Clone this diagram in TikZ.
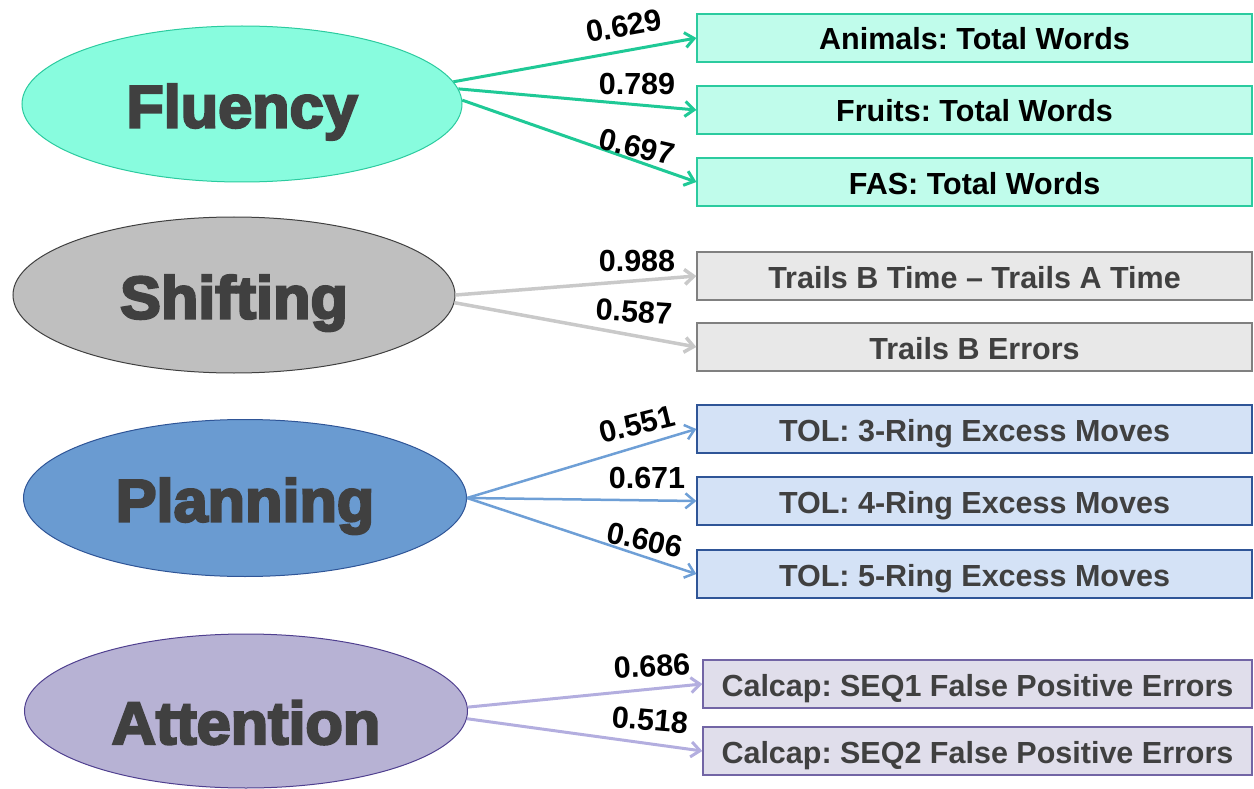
\documentclass[tikz,border=0pt]{standalone}
\usepackage{fontspec}
\setmainfont{Liberation Sans}
\newfontfamily\gruesa[FakeBold=4,FakeStretch=1.02]{Liberation Sans Bold}
\usepackage{tikz}
\usetikzlibrary{shapes.geometric,arrows.meta,positioning}
\frenchspacing
\definecolor{oscuro}{HTML}{404040}
\definecolor{fluF}{HTML}{88FCDE}\definecolor{fluB}{HTML}{2BCB9F}
\definecolor{fluC}{HTML}{C0FCEB}\definecolor{fluL}{HTML}{1FC996}
\definecolor{shiF}{HTML}{BFBFBF}\definecolor{shiB}{HTML}{404040}
\definecolor{shiC}{HTML}{E8E8E8}\definecolor{shiL}{HTML}{C9C9C9}
\definecolor{plaF}{HTML}{6A9BD1}\definecolor{plaB}{HTML}{2F5597}
\definecolor{plaC}{HTML}{D4E2F6}\definecolor{plaL}{HTML}{6E9FD6}
\definecolor{atnF}{HTML}{B7B2D4}\definecolor{atnB}{HTML}{4F3F8F}
\definecolor{atnC}{HTML}{E0DEEB}\definecolor{atnL}{HTML}{B3AEDF}
\tikzset{
  factor/.style={ellipse,inner sep=0pt,minimum width=442pt,minimum height=156pt,line width=1pt,
    text height=47pt,text depth=0pt,text=oscuro,font=\gruesa\fontsize{60}{60}\selectfont},
  medida/.style={rectangle,inner sep=0pt,minimum width=555pt,minimum height=48pt,line width=1.3pt,
    text height=24pt,text depth=0pt,text=oscuro,font=\bfseries\fontsize{30.5}{30.5}\selectfont},
  carga/.style={font=\bfseries\fontsize{30.5}{30.5}\selectfont},
  flecha/.style={-{Straight Barb[length=9pt,width=15pt]},line width=3pt}
}

\begin{document}
\begin{tikzpicture}[x=1pt,y=-1pt]
\useasboundingbox (0,0) rectangle (1254,789);
% fluency
\node[factor,fill=fluF,draw=fluB,minimum width=440pt] (flu) at (242,104) {Fluency};
\node[medida,fill=fluC,draw=fluB,text=black] (ani) at (974.5,38) {Animals: Total Words};
\node[medida,fill=fluC,draw=fluB,text=black] (fru) at (974.5,110) {Fruits: Total Words};
\node[medida,fill=fluC,draw=fluB,text=black] (fas) at (974.5,182) {FAS: Total Words};
\draw[flecha,fluL] (flu.6)--(ani.west);
\draw[flecha,fluL] (flu.4)--(fru.west);
\draw[flecha,fluL] (flu.1)--(fas.west);
\node[carga,rotate=10] at (624,26) {0.629};
\node[carga] at (637,84) {0.789};
\node[carga,rotate=-13] at (637,147) {0.697};
% shifting
\node[factor,fill=shiF,draw=shiB] (shi) at (234,295) {Shifting};
\node[medida,fill=shiC,draw=gray] (tbt) at (974.5,276) {Trails B Time – Trails A Time};
\node[medida,fill=shiC,draw=gray] (tbe) at (974.5,347) {Trails B Errors};
\draw[flecha,shiL,line width=3.5pt] (shi.0)--(tbt.west);
\draw[flecha,shiL,line width=3.5pt] (shi.-2)--(tbe.west);
\node[carga] at (637,261) {0.988};
\node[carga,rotate=-4] at (634,312) {0.587};
% planning
\node[factor,fill=plaF,draw=plaB,minimum width=443pt,minimum height=157pt] (pla) at (245,498) {Planning};
\node[medida,fill=plaC,draw=plaB] (tr3) at (974.5,429) {TOL: 3-Ring Excess Moves};
\node[medida,fill=plaC,draw=plaB] (tr4) at (974.5,501) {TOL: 4-Ring Excess Moves};
\node[medida,fill=plaC,draw=plaB] (tr5) at (974.5,574) {TOL: 5-Ring Excess Moves};
\draw[flecha,plaL,line width=2.5pt] (pla.east)--(tr3.west);
\draw[flecha,plaL,line width=2.5pt] (pla.east)--(tr4.west);
\draw[flecha,plaL,line width=2.5pt] (pla.east)--(tr5.west);
\node[carga,rotate=14] at (637,424) {0.551};
\node[carga] at (647,478) {0.671};
\node[carga,rotate=-12] at (645,540) {0.606};
% attention
\node[factor,fill=atnF,draw=atnB,minimum width=443pt,minimum height=154pt,text height=66pt] (atn) at (246,711) {Attention};
\node[medida,fill=atnC,draw=atnB!80,minimum width=549pt] (sq1) at (977.5,684) {Calcap: SEQ1 False Positive Errors};
\node[medida,fill=atnC,draw=atnB!80,minimum width=549pt] (sq2) at (977.5,751) {Calcap: SEQ2 False Positive Errors};
\draw[flecha,atnL] (atn.1)--(sq1.west);
\draw[flecha,atnL] (atn.-2)--(sq2.west);
\node[carga,rotate=3] at (652,666) {0.686};
\node[carga,rotate=-5] at (650,720) {0.518};
\end{tikzpicture}
\end{document}
